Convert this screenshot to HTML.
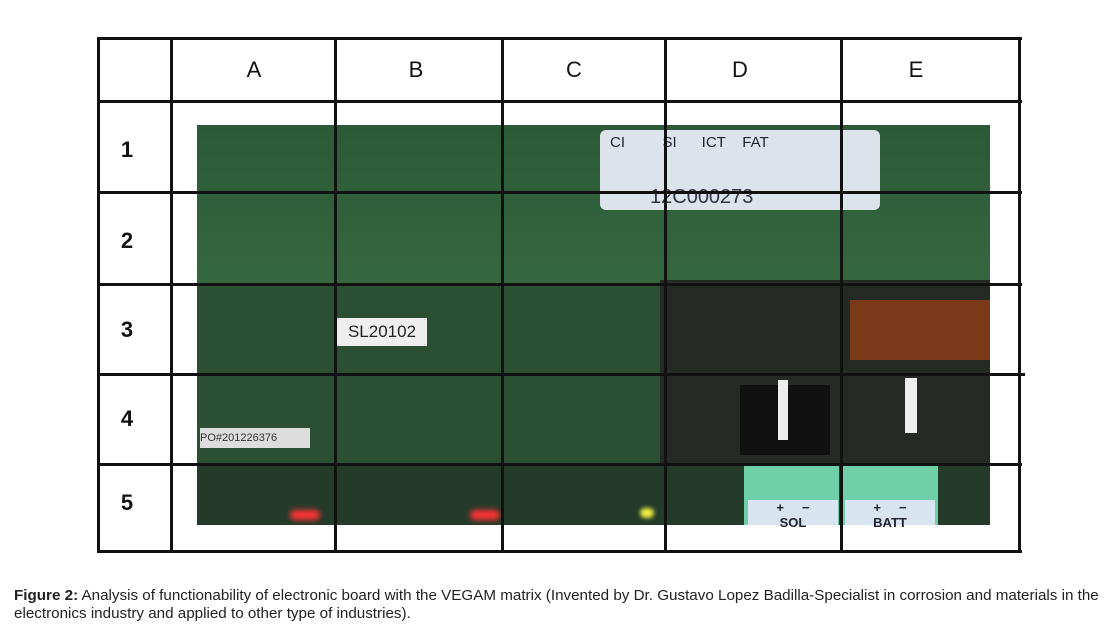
<!DOCTYPE html>
<html><head><style>
body{margin:0;width:1118px;height:627px;background:#fff;position:relative;overflow:hidden;font-family:"Liberation Sans",Arial,sans-serif}
.a{position:absolute}
.h{position:absolute;background:#111;height:3px}
.v{position:absolute;background:#111;width:3px}
.lbl{position:absolute;font-size:22px;color:#111;text-align:center;width:40px}
</style></head><body>
<div class="a" style="left:197px;top:125px;width:793px;height:400px;background:#2f5a3a"></div>
<div class="a" style="left:197px;top:125px;width:793px;height:160px;background:linear-gradient(180deg,#2c5a37,#35673f)"></div>
<div class="a" style="left:197px;top:285px;width:793px;height:180px;background:#2a4f33"></div>
<div class="a" style="left:660px;top:280px;width:330px;height:190px;background:#262a24"></div>
<div class="a" style="left:197px;top:465px;width:793px;height:60px;background:#243a2a"></div>
<div class="a" style="left:600px;top:130px;width:280px;height:80px;background:#dde3ea;border-radius:6px"></div>
<div class="a" style="left:610px;top:134px;font-size:15px;color:#223;">CI &nbsp;&nbsp;&nbsp;&nbsp;&nbsp;&nbsp;&nbsp;&nbsp;SI &nbsp;&nbsp;&nbsp;&nbsp;&nbsp;ICT &nbsp;&nbsp;&nbsp;FAT</div>
<div class="a" style="left:650px;top:186px;font-size:20px;color:#334;">12C000273</div>
<div class="a" style="left:850px;top:300px;width:140px;height:60px;background:#7a3a1a"></div>
<div class="a" style="left:337px;top:318px;width:90px;height:28px;background:#eee;font-size:17px;color:#222;text-align:center;line-height:28px">SL20102</div>
<div class="a" style="left:200px;top:428px;width:110px;height:20px;background:#ddd;font-size:11px;color:#333;line-height:20px">PO#201226376</div>
<div class="a" style="left:744px;top:466px;width:95px;height:59px;background:#6ecfa8"></div>
<div class="a" style="left:843px;top:466px;width:95px;height:59px;background:#6ecfa8"></div>
<div class="a" style="left:748px;top:500px;width:90px;height:25px;background:#d8e4f0;font-size:13px;font-weight:bold;text-align:center;color:#223">+ &nbsp;&nbsp;&nbsp; −<br>SOL</div>
<div class="a" style="left:845px;top:500px;width:90px;height:25px;background:#d8e4f0;font-size:13px;font-weight:bold;text-align:center;color:#223">+ &nbsp;&nbsp;&nbsp; −<br>BATT</div>
<div class="a" style="left:290px;top:510px;width:30px;height:10px;background:#f33;border-radius:5px;filter:blur(3px)"></div>
<div class="a" style="left:470px;top:510px;width:30px;height:10px;background:#f33;border-radius:5px;filter:blur(3px)"></div>
<div class="a" style="left:640px;top:508px;width:14px;height:10px;background:#ee4;border-radius:5px;filter:blur(2px)"></div>
<div class="a" style="left:740px;top:385px;width:90px;height:70px;background:#111"></div>
<div class="a" style="left:778px;top:380px;width:10px;height:60px;background:#eee"></div>
<div class="a" style="left:905px;top:378px;width:12px;height:55px;background:#eee"></div>

<div class="h" style="left:97px;top:37px;width:925px"></div>
<div class="h" style="left:97px;top:100px;width:925px"></div>
<div class="h" style="left:97px;top:191px;width:925px"></div>
<div class="h" style="left:97px;top:283px;width:925px"></div>
<div class="h" style="left:97px;top:373px;width:928px"></div>
<div class="h" style="left:97px;top:463px;width:925px"></div>
<div class="h" style="left:97px;top:550px;width:925px"></div>
<div class="v" style="left:97px;top:37px;height:516px"></div>
<div class="v" style="left:170px;top:37px;height:516px"></div>
<div class="v" style="left:334px;top:37px;height:516px"></div>
<div class="v" style="left:501px;top:37px;height:516px"></div>
<div class="v" style="left:664px;top:37px;height:516px"></div>
<div class="v" style="left:840px;top:37px;height:516px"></div>
<div class="v" style="left:1018px;top:37px;height:516px"></div>

<div class="lbl" style="left:234px;top:57px">A</div>
<div class="lbl" style="left:396px;top:57px">B</div>
<div class="lbl" style="left:554px;top:57px">C</div>
<div class="lbl" style="left:720px;top:57px">D</div>
<div class="lbl" style="left:896px;top:57px">E</div>
<div class="lbl" style="left:107px;top:137px;font-weight:bold">1</div>
<div class="lbl" style="left:107px;top:228px;font-weight:bold">2</div>
<div class="lbl" style="left:107px;top:317px;font-weight:bold">3</div>
<div class="lbl" style="left:107px;top:406px;font-weight:bold">4</div>
<div class="lbl" style="left:107px;top:490px;font-weight:bold">5</div>

<div class="a" style="left:14px;top:587px;width:1110px;font-size:15.2px;line-height:18px;color:#222;white-space:nowrap"><b>Figure 2:</b> Analysis of functionability of electronic board with the VEGAM matrix (Invented by Dr. Gustavo Lopez Badilla-Specialist in corrosion and materials in the<br>electronics industry and applied to other type of industries).</div>
</body></html>
